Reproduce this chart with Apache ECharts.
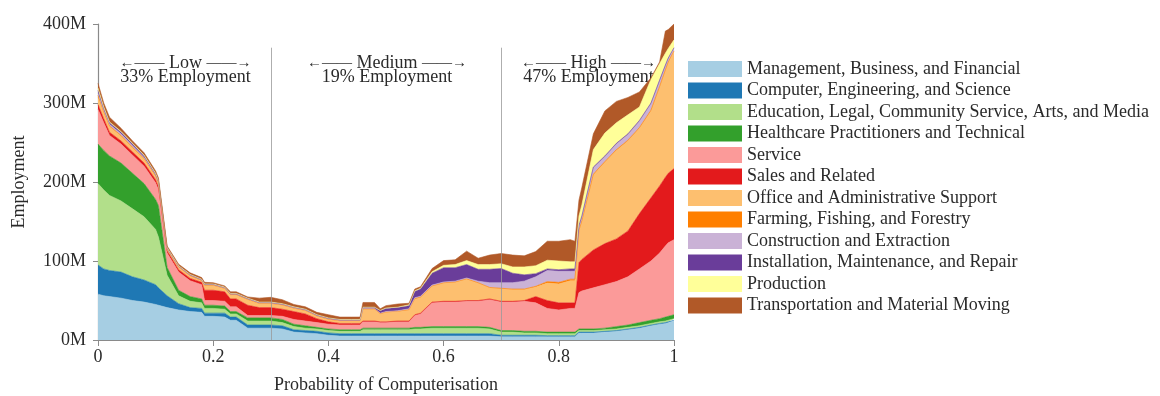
<!DOCTYPE html>
<html>
<head>
<meta charset="utf-8">
<script src="https://cdn.jsdelivr.net/npm/echarts@6/dist/echarts.min.js"></script>
<style>
  html, body { margin: 0; padding: 0; background: #ffffff; }
  #chart { width: 1160px; height: 396px; }
</style>
</head>
<body>
<div id="chart"></div>
<script>
// Probability of computerisation at each sample point (x positions)
const probability = [0, 0.01, 0.02, 0.04, 0.06, 0.08, 0.10, 0.105, 0.12, 0.14, 0.16, 0.18, 0.185, 0.20, 0.22, 0.23, 0.24, 0.26, 0.28, 0.30,
  0.32, 0.34, 0.36, 0.38, 0.40, 0.42, 0.44, 0.455, 0.46, 0.48, 0.49, 0.50, 0.52, 0.54, 0.55, 0.56, 0.58, 0.60, 0.62, 0.64,
  0.66, 0.68, 0.70, 0.72, 0.74, 0.76, 0.78, 0.80, 0.82, 0.828, 0.835, 0.84, 0.86, 0.88, 0.90, 0.92, 0.94, 0.96, 0.975, 0.985, 0.99, 1.0];

// Employment (millions) per occupation group, stacked bottom to top
const management = [58, 56, 55, 53, 50, 48, 45, 44, 41, 38, 36, 35, 30, 30, 29, 25, 25, 15, 15, 15,
  14, 10, 9, 8, 6, 5, 5, 5, 5, 5, 5, 5, 5, 5, 5, 5, 5, 5, 5, 5,
  5, 5, 4, 4, 4, 4, 4, 4, 4, 4, 9, 9, 9, 10, 11, 13, 15, 18, 20, 21, 22, 24];
const computer = [37, 34, 33, 33, 30, 28, 25, 22, 15, 8, 5, 5, 4, 4, 5, 4, 4, 4, 4, 4,
  4, 3, 3, 3, 3, 3, 3, 3, 3, 3, 3, 3, 3, 3, 3, 3, 3, 3, 3, 3,
  3, 3, 2, 2, 2, 2, 1.5, 1.5, 1.5, 1.5, 1, 1, 1, 1, 1, 1, 1, 1, 1, 1, 1, 1];
const education = [103, 100, 95, 90, 86, 80, 70, 64, 26, 10, 8, 7, 6, 6, 5, 4, 4, 5, 5, 5,
  4, 4, 3, 3, 3, 3, 3, 3, 5, 5, 5, 5, 5, 5, 6, 6, 7, 7, 7, 7,
  7, 6, 4, 4, 3, 3, 2.5, 2.5, 2.5, 2.5, 2, 2, 2, 2, 2, 2, 2, 2, 2, 2, 2, 2];
const healthcare = [50, 50, 50, 48, 45, 42, 38, 40, 10, 7, 6, 5, 4, 4, 4, 3, 3, 4, 4, 4,
  4, 3, 3, 2, 2, 2, 2, 2, 2, 2, 2, 2, 2, 2, 2, 2, 2, 2, 2, 2,
  2, 2, 2, 2, 2, 2, 2, 2, 2, 2, 2, 2, 2, 2, 3, 3, 4, 4, 4, 5, 5, 5];
const service = [44, 35, 26, 24, 23, 22, 21, 20, 18, 23, 20, 18, 6, 6, 6, 6, 6, 3, 3, 3,
  4, 6, 6, 6, 6, 6, 6, 6, 8, 8, 7, 7, 8, 8, 15, 17, 30, 31, 31, 32,
  32, 35, 36, 36, 38, 36, 30, 28, 30, 30, 46, 48, 52, 55, 57, 61, 68, 75, 83, 90, 93, 95];
const sales = [6, 5, 4, 4, 4, 4, 4, 4, 3, 3, 3, 3, 13, 13, 12, 10, 10, 13, 10, 10,
  9, 10, 9, 5, 3, 2, 2, 2, 1, 1, 1, 1, 1, 1, 1, 1, 1, 1, 1, 1,
  1, 1, 1, 1, 1, 8, 10, 9, 7, 7, 38, 40, 48, 52, 54, 58, 70, 80, 85, 87, 88, 90];
const office = [10, 8, 7, 6, 5, 5, 4, 4, 2, 3, 3, 2, 6, 6, 4, 5, 5, 7, 5, 5,
  5, 4, 4, 3, 3, 3, 3, 3, 15, 15, 10, 12, 12, 14, 20, 20, 20, 23, 24, 27,
  22, 14, 16, 15, 14, 12, 22, 24, 28, 28, 40, 48, 95, 103, 112, 114, 108, 110, 125, 135, 140, 148];
const farming = [2, 1, 1, 1, 1, 1, 1, 1, 0.5, 0.5, 0.5, 0.5, 0.5, 0.5, 0.5, 0.5, 0.5, 0.5, 0.5, 0.5,
  0.5, 0.5, 0.5, 0.5, 0.5, 0.5, 0.5, 0.5, 0.5, 0.5, 0.5, 0.5, 0.5, 0.5, 0.5, 0.5, 0.5, 0.5, 0.5, 0.5,
  0.5, 0.5, 0.5, 0.5, 0.5, 1, 2, 2, 2, 2, 1, 1, 1, 1, 1, 1, 1, 1, 1, 1, 1, 1];
const construction = [3, 2, 2, 2, 2, 1, 1, 1, 0.5, 0.5, 0.5, 0.5, 0.5, 0.5, 0.5, 0.5, 0.5, 0.5, 0.5, 0.5,
  0.5, 0.5, 0.5, 0.5, 0.5, 0.5, 0.5, 0.5, 0.5, 0.5, 0.5, 0.5, 0.5, 1, 1, 1, 1, 1, 1, 1,
  2, 6, 7, 8, 10, 12, 14, 14, 10, 10, 4, 4, 8, 6, 7, 7, 8, 8, 7, 5, 4, 3];
const installation = [3, 2, 2, 2, 2, 2, 1, 1, 0.5, 0.5, 0.5, 0.5, 0.5, 0.5, 0.5, 0.5, 0.5, 0.5, 0.5, 0.5,
  0.5, 0.5, 0.5, 0.5, 0.5, 0.5, 0.5, 0.5, 1, 1, 3, 4, 4, 4, 8, 9, 15, 18, 17, 17,
  15, 17, 18, 12, 8, 4, 2, 2, 3, 3, 2, 2, 1, 1, 1, 1, 1, 1, 1, 1, 1, 1];
const production = [3, 2, 1, 1, 1, 1, 1, 1, 0.5, 0.5, 0.5, 0.5, 0.5, 0.5, 0.5, 0.5, 0.5, 0.5, 0.5, 0.5,
  0.5, 0.5, 0.5, 0.5, 0.5, 0.5, 0.5, 0.5, 0.5, 0.5, 0.5, 0.5, 0.5, 1, 1, 1, 2, 3, 4, 5,
  6, 6, 6, 8, 10, 10, 11, 11, 9, 9, 12, 14, 22, 29, 26, 24, 17, 30, 21, 15, 12, 10];
const transportation = [6, 5, 6, 4, 3, 3, 3, 3, 2, 2, 2, 2, 2, 1.5, 1.5, 2, 2, 1.5, 5, 6,
  5, 3, 3, 3, 4, 3, 3, 3, 6, 6, 2, 3, 4, 2, 2, 2, 4, 6, 6, 12,
  8, 12, 13, 15, 14, 18, 24, 25, 28, 26, 20, 22, 20, 28, 27, 22, 19, 2, 2, 28, 24, 20];

const categories = [
  'Management, Business, and Financial',
  'Computer, Engineering, and Science',
  'Education, Legal, Community Service, Arts, and Media',
  'Healthcare Practitioners and Technical',
  'Service',
  'Sales and Related',
  'Office and Administrative Support',
  'Farming, Fishing, and Forestry',
  'Construction and Extraction',
  'Installation, Maintenance, and Repair',
  'Production',
  'Transportation and Material Moving'
];
const seriesValues = [management, computer, education, healthcare, service, sales, office,
  farming, construction, installation, production, transportation];

// Risk bands and their employment shares
const bandNames = ['Low', 'Medium', 'High'];
const bandShares = ['33% Employment', '19% Employment', '47% Employment'];
const bandCentres = [0.15, 0.5, 0.85];
const bandDividers = [0.3, 0.7];

const xTickLabels = ['0', '0.2', '0.4', '0.6', '0.8', '1'];
const yTickLabels = ['0M', '100M', '200M', '300M', '400M'];

const palette = ['#a6cee3', '#1f78b4', '#b2df8a', '#33a02c', '#fb9a99', '#e31a1c',
  '#fdbf6f', '#ff7f00', '#cab2d6', '#6a3d9a', '#ffff99', '#b15928'];
const serif = '"Liberation Serif", "Times New Roman", "DejaVu Serif", serif';
const textColor = '#2a2a2a';

const chart = echarts.init(document.getElementById('chart'), null, { renderer: 'canvas' });

// Each point is [employment, probability]; the employment column comes first so
// that it is the dimension the stack accumulates, while encode maps it to y.
const series = categories.map((name, i) => ({
  name: name,
  type: 'line',
  stack: 'employment',
  symbol: 'none',
  showSymbol: false,
  smooth: false,
  animation: false,
  silent: true,
  encode: { x: 1, y: 0 },
  lineStyle: { width: 0.6, color: palette[i] },
  itemStyle: { color: palette[i] },
  areaStyle: { color: palette[i], opacity: 1 },
  emphasis: { disabled: true },
  data: probability.map((p, j) => [seriesValues[i][j], p])
}));

// Vertical dividers between risk bands
series.push({
  name: 'dividers',
  type: 'line',
  data: [],
  silent: true,
  animation: false,
  z: 10,
  markLine: {
    silent: true,
    symbol: 'none',
    animation: false,
    label: { show: false },
    lineStyle: { color: '#9a9a9a', width: 1, type: 'solid', opacity: 0.8 },
    data: bandDividers.map(d => [{ coord: [d, 0] }, { coord: [d, 370] }])
  }
});

const option = {
  backgroundColor: '#ffffff',
  animation: false,
  grid: { left: 98, right: 486, top: 24, bottom: 56, outerBoundsMode: 'none', containLabel: false },
  legend: {
    data: categories,
    orient: 'vertical',
    left: 688,
    top: 60,
    padding: 0,
    icon: 'rect',
    itemWidth: 54,
    itemHeight: 16,
    itemGap: 3.5,
    selectedMode: false,
    textStyle: { fontFamily: serif, fontSize: 18, lineHeight: 18, color: textColor }
  },
  xAxis: {
    type: 'value',
    min: 0,
    max: 1,
    interval: 0.2,
    name: 'Probability of Computerisation',
    nameLocation: 'middle',
    nameGap: 36,
    nameTextStyle: { fontFamily: serif, fontSize: 18, color: textColor },
    axisLine: { show: true, lineStyle: { color: '#8a8a8a', width: 1.2 } },
    axisTick: { show: true, length: 6, lineStyle: { color: '#8a8a8a' } },
    axisLabel: {
      fontFamily: serif, fontSize: 18, color: textColor, margin: 8,
      formatter: v => xTickLabels[Math.round(v / 0.2)]
    },
    splitLine: { show: false }
  },
  yAxis: {
    type: 'value',
    min: 0,
    max: 400,
    interval: 100,
    name: 'Employment',
    nameLocation: 'middle',
    nameGap: 70,
    nameTextStyle: { fontFamily: serif, fontSize: 18, color: textColor },
    axisLine: { show: true, lineStyle: { color: '#8a8a8a', width: 1.2 } },
    axisTick: { show: true, length: 5, lineStyle: { color: '#8a8a8a' } },
    axisLabel: {
      fontFamily: serif, fontSize: 18, color: textColor, margin: 12,
      formatter: v => yTickLabels[Math.round(v / 100)]
    },
    splitLine: { show: false }
  },
  series: series
};

chart.setOption(option);

// Band captions above the plot, placed at the band centres on the x axis
const captions = [];
bandNames.forEach((band, i) => {
  const cx = chart.convertToPixel({ xAxisIndex: 0 }, bandCentres[i]) + 1;
  captions.push({
    type: 'text',
    silent: true,
    style: {
      text: '{a|\u2190\u2014\u2014} ' + band + ' {a|\u2014\u2014\u2192}',
      x: cx, y: 63,
      textAlign: 'center', textVerticalAlign: 'middle',
      font: '18px ' + serif, fill: textColor,
      rich: { a: { fontSize: 15, fontFamily: serif, fill: textColor, verticalAlign: 'middle' } }
    }
  });
  captions.push({
    type: 'text',
    silent: true,
    style: {
      text: bandShares[i],
      x: cx, y: 77,
      textAlign: 'center', textVerticalAlign: 'middle',
      font: '18px ' + serif, fill: textColor
    }
  });
});
chart.setOption({ graphic: captions });
</script>
</body>
</html>
